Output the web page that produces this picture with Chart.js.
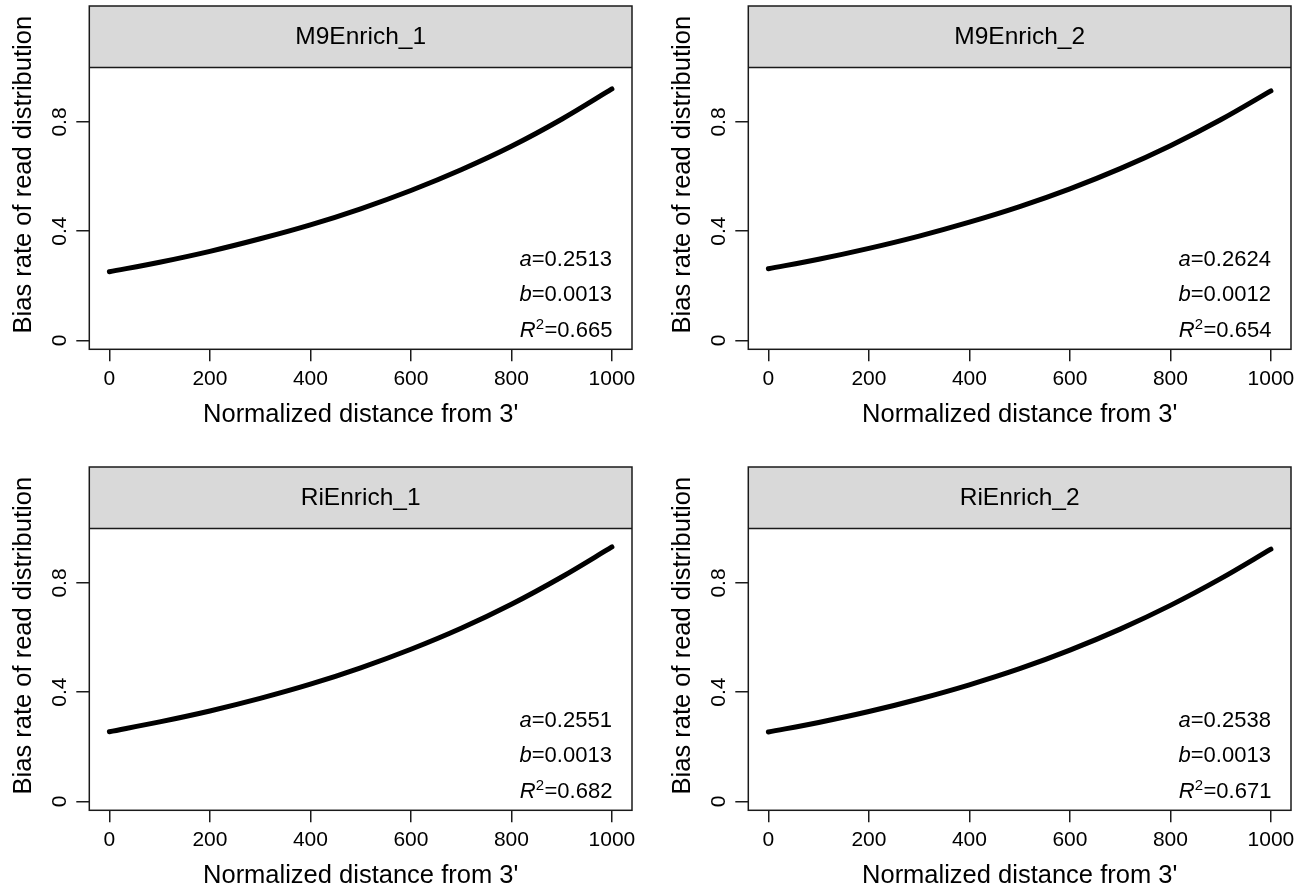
<!DOCTYPE html>
<html>
<head>
<meta charset="utf-8">
<script src="https://cdn.jsdelivr.net/npm/chart.js@4.4.1/dist/chart.umd.min.js"></script>
<style>
  html, body { margin: 0; padding: 0; background: #fff; overflow: hidden; }
  #wrap { position: relative; width: 1311px; height: 890px; overflow: hidden; }
  canvas { position: absolute; }
</style>
</head>
<body>
<div id="wrap">
  <canvas id="p1" width="652" height="445" style="left:0px;top:0px"></canvas>
  <canvas id="p2" width="652" height="445" style="left:659px;top:0px"></canvas>
  <canvas id="p3" width="652" height="445" style="left:0px;top:461px"></canvas>
  <canvas id="p4" width="652" height="445" style="left:659px;top:461px"></canvas>
</div>
<script>
// values
const distance = [0, 100, 200, 300, 400, 500, 600, 700, 800, 900, 1000];
const m9Enrich1 = [0.251, 0.286, 0.326, 0.372, 0.423, 0.482, 0.549, 0.625, 0.711, 0.810, 0.921];
const m9Enrich2 = [0.262, 0.297, 0.337, 0.382, 0.433, 0.490, 0.555, 0.629, 0.713, 0.808, 0.914];
const riEnrich1 = [0.255, 0.291, 0.331, 0.377, 0.429, 0.489, 0.557, 0.634, 0.722, 0.822, 0.932];
const riEnrich2 = [0.254, 0.289, 0.329, 0.375, 0.427, 0.486, 0.554, 0.631, 0.718, 0.816, 0.924];

const panelNames = ['M9Enrich_1', 'M9Enrich_2', 'RiEnrich_1', 'RiEnrich_2'];
const fitA = ['0.2513', '0.2624', '0.2551', '0.2538'];
const fitB = ['0.0013', '0.0012', '0.0013', '0.0013'];
const fitR2 = ['0.665', '0.654', '0.682', '0.671'];

const xTicks = [0, 200, 400, 600, 800, 1000];
const yTicks = [0, 0.4, 0.8];
const yTickLabels = ['0', '0.4', '0.8'];

const xTitle = "Normalized distance from 3'";
const yTitle = 'Bias rate of read distribution';

const FONT = '"Liberation Sans", Arial, Helvetica, sans-serif';
const LINE = '#1a1a1a';

const panelPlugin = {
    id: 'panelDecor',
    beforeDatasetsDraw(chart) {
        const {ctx, chartArea: ca, scales: {y}} = chart;
        const top = y.getPixelForValue(1.225);
        const stripBottom = y.getPixelForValue(1.0);
        ctx.save();
        ctx.fillStyle = '#d9d9d9';
        ctx.fillRect(ca.left, top, ca.right - ca.left, stripBottom - top);
        ctx.strokeStyle = LINE;
        ctx.lineWidth = 1.5;
        ctx.strokeRect(ca.left, top, ca.right - ca.left, ca.bottom - top);
        ctx.beginPath();
        ctx.moveTo(ca.left, stripBottom);
        ctx.lineTo(ca.right, stripBottom);
        ctx.stroke();
        // strip label
        ctx.fillStyle = '#000';
        ctx.font = '24.5px ' + FONT;
        ctx.textAlign = 'center';
        ctx.textBaseline = 'middle';
        ctx.fillText(chart.options.panelName, (ca.left + ca.right) / 2, (top + stripBottom) / 2 + 1);
        ctx.restore();
    },
    afterDraw(chart) {
        const {ctx, chartArea: ca, scales: {x, y}} = chart;
        const idx = chart.options.panelIndex;
        ctx.save();
        // y tick labels, parallel to axis
        ctx.fillStyle = '#000';
        ctx.font = '21px ' + FONT;
        ctx.textAlign = 'center';
        ctx.textBaseline = 'alphabetic';
        yTicks.forEach((v, i) => {
            ctx.save();
            ctx.translate(ca.left - 23, y.getPixelForValue(v));
            ctx.rotate(-Math.PI / 2);
            ctx.fillText(yTickLabels[i], 0, 0);
            ctx.restore();
        });
        // fit annotation, right aligned at x = 1000
        const right = x.getPixelForValue(1000);
        const rows = [
            [{t: 'a', it: true}, {t: '=' + fitA[idx]}],
            [{t: 'b', it: true}, {t: '=' + fitB[idx]}],
            [{t: 'R', it: true}, {t: '2', sup: true}, {t: '=' + fitR2[idx]}]
        ];
        const rowY = [0.272, 0.144, 0.012];
        rows.forEach((parts, r) => {
            const fonts = parts.map(p => (p.it ? 'italic ' : '') + (p.sup ? '15px ' : '22px ') + FONT);
            const widths = parts.map((p, k) => { ctx.font = fonts[k]; return ctx.measureText(p.t).width; });
            let cx = right - widths.reduce((s, w) => s + w, 0);
            const base = y.getPixelForValue(rowY[r]);
            ctx.textAlign = 'left';
            parts.forEach((p, k) => {
                ctx.font = fonts[k];
                ctx.fillText(p.t, cx, p.sup ? base - 8 : base);
                cx += widths[k] + (p.sup ? 0.5 : 0);
            });
        });
        ctx.restore();
    }
};

function drawPanel(id, idx, values) {
    new Chart(document.getElementById(id), {
        type: 'line',
        data: {
            datasets: [{
                data: distance.map((d, i) => ({x: d, y: values[i]})),
                borderColor: '#000',
                borderWidth: 5,
                borderCapStyle: 'round',
                borderJoinStyle: 'round',
                pointRadius: 0,
                cubicInterpolationMode: 'monotone',
                fill: false
            }]
        },
        options: {
            responsive: false,
            animation: false,
            devicePixelRatio: 1,
            panelName: panelNames[idx],
            panelIndex: idx,
            layout: {padding: {left: 0, right: 20, top: 0, bottom: 0}},
            plugins: {legend: {display: false}, tooltip: {enabled: false}},
            scales: {
                x: {
                    type: 'linear',
                    min: -40,
                    max: 1040,
                    afterBuildTicks: s => { s.ticks = xTicks.map(v => ({value: v})); },
                    afterFit: s => { s.height = 95.7; },
                    grid: {display: true, drawOnChartArea: false, drawTicks: true, tickLength: 12, color: LINE, lineWidth: 1.5},
                    border: {display: false},
                    ticks: {
                        color: '#000',
                        font: {family: FONT, size: 21},
                        padding: 5,
                        maxRotation: 0,
                        autoSkip: false,
                        callback: v => String(v)
                    },
                    title: {
                        display: true,
                        text: xTitle,
                        color: '#000',
                        font: {family: FONT, size: 25.5},
                        padding: {top: 0, bottom: 15}
                    }
                },
                y: {
                    type: 'linear',
                    min: -0.033,
                    max: 1.247,
                    afterBuildTicks: s => { s.ticks = yTicks.map(v => ({value: v})); },
                    afterFit: s => { s.width = 89.3; },
                    grid: {display: true, drawOnChartArea: false, drawTicks: true, tickLength: 13, color: LINE, lineWidth: 1.5},
                    border: {display: false},
                    ticks: {display: false},
                    title: {
                        display: true,
                        text: yTitle,
                        color: '#000',
                        font: {family: FONT, size: 25.5},
                        padding: {top: 9, bottom: 0}
                    }
                }
            }
        },
        plugins: [panelPlugin]
    });
}

drawPanel('p1', 0, m9Enrich1);
drawPanel('p2', 1, m9Enrich2);
drawPanel('p3', 2, riEnrich1);
drawPanel('p4', 3, riEnrich2);
</script>
</body>
</html>
